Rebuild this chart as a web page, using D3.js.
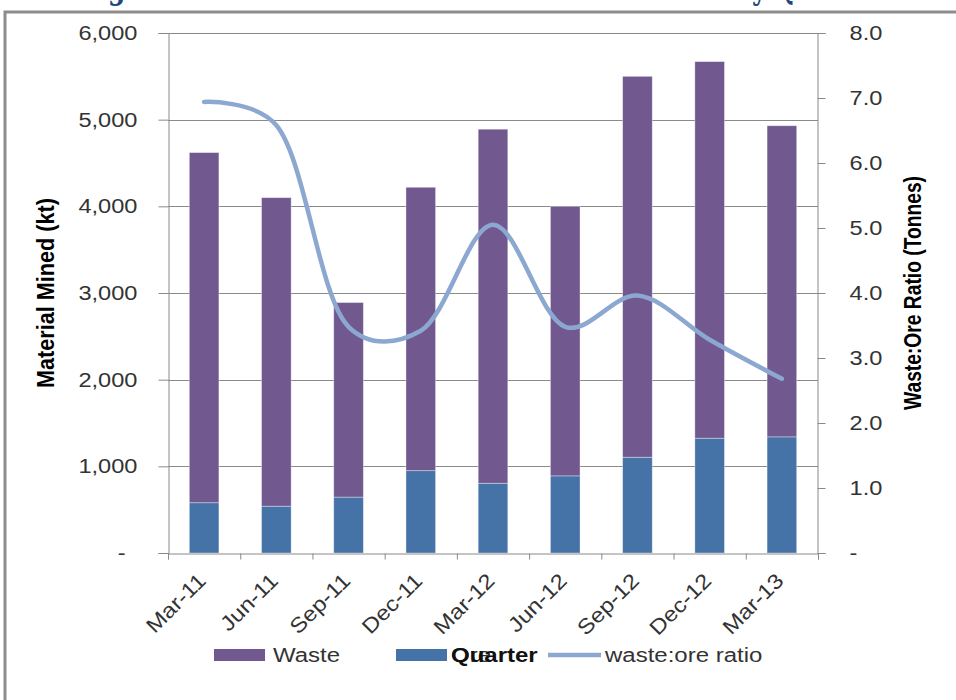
<!DOCTYPE html>
<html>
<head>
<meta charset="utf-8">
<script src="https://cdn.jsdelivr.net/npm/d3@7"></script>
<style>
  html, body { margin: 0; padding: 0; background: #fff; }
  svg { display: block; }
  text { font-family: "Liberation Sans", Arial, sans-serif; }
</style>
</head>
<body>
<svg id="chart" width="956" height="700"></svg>
<script>
// Quarterly material movement (kt) and the resulting waste:ore ratio
const quarters = ["Mar-11", "Jun-11", "Sep-11", "Dec-11", "Mar-12", "Jun-12", "Sep-12", "Dec-12", "Mar-13"];
const oreKt    = [580, 540, 645, 950, 805, 890, 1105, 1325, 1340];
const wasteKt  = [4040, 3560, 2245, 3270, 4085, 3110, 4395, 4345, 3590];
const wasteOreRatio = [6.94, 6.58, 3.48, 3.42, 5.05, 3.48, 3.96, 3.28, 2.68];
const leftTicks  = [0, 1000, 2000, 3000, 4000, 5000, 6000];
const rightTicks = [0, 1, 2, 3, 4, 5, 6, 7, 8];

const colors = { waste: "#71588F", ore: "#4572A7", ratio: "#8CA8D1", axis: "#8A8A8A", text: "#333" };

const svg = d3.select("#chart");
const plot = { left: 168, right: 818, top: 33, bottom: 553 };

// widen glyphs of a text selection by factor k
function stretch(sel, k) {
  sel.each(function () {
    const w = this.getComputedTextLength();
    d3.select(this).attr("textLength", w * k).attr("lengthAdjust", "spacingAndGlyphs");
  });
}

// Frame around the figure
svg.append("rect")
  .attr("x", 5).attr("y", 12).attr("width", 1000).attr("height", 760)
  .attr("fill", "none").attr("stroke", "#8C8C8C").attr("stroke-width", 3);

// Figure caption (sits above the frame)
const caption = "Figure 4: Material Mined and Waste:Ore Ratio by Quarter";
const cap = svg.append("text")
  .attr("x", 0).attr("y", -1)
  .style("font-family", "'DejaVu Serif', 'Liberation Serif', serif")
  .style("font-weight", "bold").style("font-size", "34px")
  .attr("fill", "#1F497D")
  .text(caption);
{
  const node = cap.node();
  const gi = caption.indexOf("g");
  const yi = caption.indexOf("by ") + 1;
  const gx = node.getStartPositionOfChar(gi).x;
  const yx = node.getStartPositionOfChar(yi).x;
  const w = node.getComputedTextLength();
  const k = (752 - 108) / (yx - gx);
  cap.attr("x", 108 - gx * k).attr("textLength", w * k).attr("lengthAdjust", "spacingAndGlyphs");
}

// Scales
const xBand = d3.scaleBand().domain(quarters)
  .range([plot.left, plot.right]).paddingInner(0.59).paddingOuter(0.295);
const xEdge = d3.scaleLinear().domain([0, quarters.length]).range([plot.left, plot.right]);
const yLeft = d3.scaleLinear().domain([0, 6000]).range([plot.bottom, plot.top]);
const yRight = d3.scaleLinear().domain([0, 8]).range([plot.bottom, plot.top]);

// Horizontal gridlines
svg.append("g").selectAll("line")
  .data(leftTicks.filter(d => d > 0))
  .join("line")
  .attr("x1", plot.left).attr("x2", plot.right)
  .attr("y1", d => Math.round(yLeft(d)) + 0.5).attr("y2", d => Math.round(yLeft(d)) + 0.5)
  .attr("stroke", colors.axis).attr("stroke-width", 1);

// Stacked bars: ore at the bottom, waste on top
const stackData = quarters.map((q, i) => ({ q, ore: oreKt[i], waste: wasteKt[i] }));
const series = d3.stack().keys(["ore", "waste"])(stackData);
svg.append("g").selectAll("g")
  .data(series)
  .join("g")
  .attr("fill", s => colors[s.key])
  .selectAll("rect")
  .data(s => s)
  .join("rect")
  .attr("x", d => xBand(d.data.q))
  .attr("width", xBand.bandwidth())
  .attr("y", d => yLeft(d[1]))
  .attr("height", d => yLeft(d[0]) - yLeft(d[1]))
  .attr("stroke", "rgba(255,255,255,0.45)").attr("stroke-width", 0.8);

// Left axis
const gLeft = svg.append("g")
  .attr("transform", `translate(${plot.left + 0.5},0)`)
  .call(d3.axisLeft(yLeft).tickValues(leftTicks).tickSize(10).tickPadding(21)
    .tickFormat(d => d === 0 ? "-" : d3.format(",")(d)));
gLeft.select(".domain").attr("stroke", colors.axis);
gLeft.selectAll(".tick line").attr("stroke", colors.axis);
gLeft.selectAll(".tick text")
  .style("font-size", "20px").attr("fill", colors.text)
  .attr("x", d => d === 0 ? -43 : -31);
stretch(gLeft.selectAll(".tick text"), 1.18);

// Right axis
const gRight = svg.append("g")
  .attr("transform", `translate(${plot.right - 0.5},0)`)
  .call(d3.axisRight(yRight).tickValues(rightTicks).tickSize(8).tickPadding(24)
    .tickFormat(d => d === 0 ? "-" : d3.format(".1f")(d)));
gRight.select(".domain").attr("stroke", colors.axis);
gRight.selectAll(".tick line").attr("stroke", colors.axis);
gRight.selectAll(".tick text").style("font-size", "20px").attr("fill", colors.text);
stretch(gRight.selectAll(".tick text"), 1.18);

// Bottom axis: ticks on category boundaries, labels at category centres
const gBottom = svg.append("g")
  .attr("transform", `translate(0,${plot.bottom + 0.5})`)
  .call(d3.axisBottom(xEdge).tickValues(d3.range(quarters.length + 1)).tickSize(6).tickFormat(""));
gBottom.select(".domain").attr("stroke", colors.axis);
gBottom.selectAll(".tick line").attr("stroke", colors.axis);

const xLabels = svg.append("g").selectAll("text")
  .data(quarters)
  .join("text")
  .attr("transform", d => `translate(${xBand(d) + xBand.bandwidth() / 2 + 3},${plot.bottom + 29}) rotate(-45)`)
  .attr("text-anchor", "end")
  .style("font-size", "21px").attr("fill", colors.text)
  .text(d => d);
stretch(xLabels, 1.14);

// Waste:ore ratio line (smoothed)
const line = d3.line()
  .x((d, i) => xBand(quarters[i]) + xBand.bandwidth() / 2)
  .y(d => yRight(d))
  .curve(d3.curveCatmullRom.alpha(0.3));
svg.append("path")
  .datum(wasteOreRatio)
  .attr("d", line)
  .attr("fill", "none")
  .attr("stroke", colors.ratio)
  .attr("stroke-width", 4.5)
  .attr("stroke-linecap", "round");

// Axis titles
const cy = (plot.top + plot.bottom) / 2;
svg.append("text")
  .attr("transform", `translate(54,${cy}) rotate(-90)`)
  .attr("text-anchor", "middle")
  .style("font-size", "23px").style("font-weight", "bold").attr("fill", "#000")
  .attr("textLength", 190).attr("lengthAdjust", "spacingAndGlyphs")
  .text("Material Mined (kt)");
svg.append("text")
  .attr("transform", `translate(921,${cy}) rotate(-90)`)
  .attr("text-anchor", "middle")
  .style("font-size", "23px").style("font-weight", "bold").attr("fill", "#000")
  .attr("textLength", 234).attr("lengthAdjust", "spacingAndGlyphs")
  .text("Waste:Ore Ratio (Tonnes)");

// Legend
const legend = svg.append("g");
legend.append("rect").attr("x", 214).attr("y", 649).attr("width", 51).attr("height", 12).attr("fill", colors.waste);
legend.append("rect").attr("x", 396).attr("y", 649).attr("width", 51).attr("height", 12).attr("fill", colors.ore);
legend.append("line").attr("x1", 548).attr("x2", 601).attr("y1", 655).attr("y2", 655)
  .attr("stroke", colors.ratio).attr("stroke-width", 4.5);
const legendTexts = [
  { t: "Waste", x: 273, bold: false },
  { t: "Ore", x: 451, bold: false },
  { t: "Quarter", x: 451, bold: true },
  { t: "waste:ore ratio", x: 605, bold: false }
];
const lt = legend.selectAll("text.lbl")
  .data(legendTexts)
  .join("text")
  .attr("class", "lbl")
  .attr("x", d => d.x).attr("y", 662)
  .style("font-size", "20px")
  .style("font-weight", d => d.bold ? "bold" : "normal")
  .attr("fill", d => d.bold ? "#111" : colors.text)
  .text(d => d.t);
stretch(lt, 1.2);
</script>
</body>
</html>
